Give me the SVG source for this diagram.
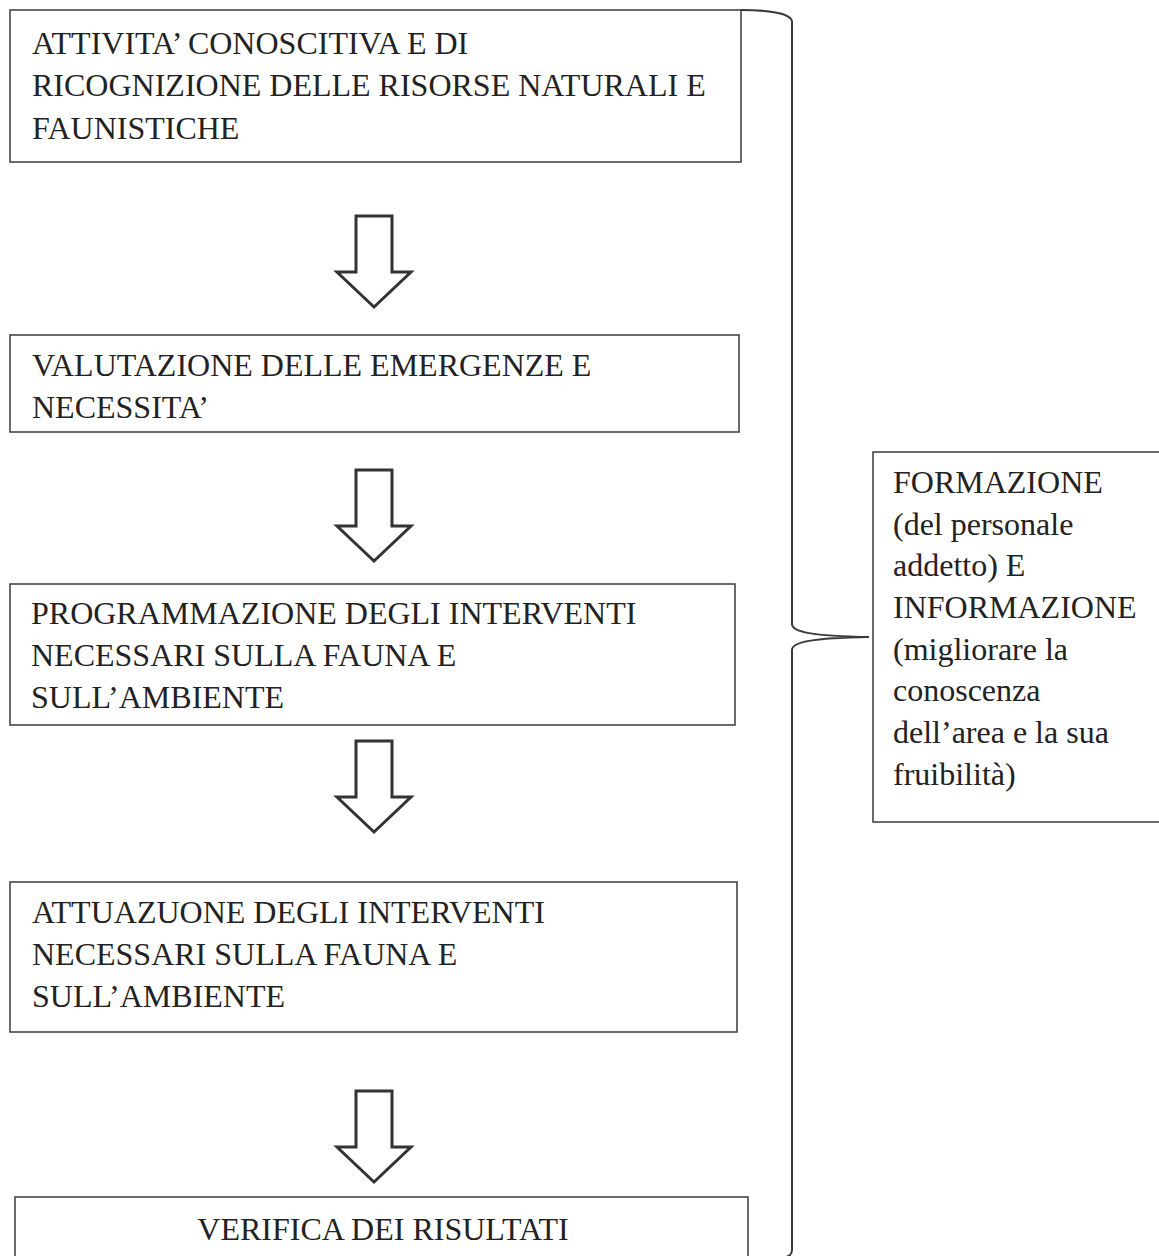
<svg xmlns="http://www.w3.org/2000/svg" width="1159" height="1256" viewBox="0 0 1159 1256">
<style>
.box{fill:#fff;stroke:#3a3a3a;stroke-width:1.5}
.t{font-family:"Liberation Serif","Times New Roman",serif;font-size:32px;fill:#222}
.arr{fill:#fff;stroke:#333;stroke-width:3;stroke-linejoin:miter}
.br{fill:none;stroke:#3a3a3a;stroke-width:2}
</style>
<defs>
<path id="arrow" class="arr" d="M-18,0 H18 V56 H37 L0,91 L-37,56 H-18 Z"/>
</defs>
<rect width="1159" height="1256" fill="#fff"/>
<g id="connectors">
<use href="#arrow" x="374" y="216"/>
<use href="#arrow" x="374" y="470"/>
<use href="#arrow" x="374" y="741"/>
<use href="#arrow" x="374" y="1091"/>
<path class="br" d="M741,10 C772,10 792,14 792,22 L792,624 C792,632 812,636 869,637 C812,638 792,642 792,650 L792,1250 C792,1254 790,1256 786,1257"/>
</g>
<g id="n1">
<rect class="box" x="10" y="10" width="731" height="152"/>
<text class="t" x="32" y="54">ATTIVITA’ CONOSCITIVA E DI</text>
<text class="t" x="32" y="96">RICOGNIZIONE DELLE RISORSE NATURALI E</text>
<text class="t" x="32" y="139">FAUNISTICHE</text>
</g>
<g id="n2">
<rect class="box" x="10" y="335" width="729" height="97"/>
<text class="t" x="32" y="376">VALUTAZIONE DELLE EMERGENZE E</text>
<text class="t" x="32" y="418">NECESSITA’</text>
</g>
<g id="n3">
<rect class="box" x="10" y="584" width="725" height="141"/>
<text class="t" x="31" y="624">PROGRAMMAZIONE DEGLI INTERVENTI</text>
<text class="t" x="31" y="666">NECESSARI SULLA FAUNA E</text>
<text class="t" x="31" y="708">SULL’AMBIENTE</text>
</g>
<g id="n4">
<rect class="box" x="10" y="882" width="727" height="150"/>
<text class="t" x="32" y="923">ATTUAZUONE DEGLI INTERVENTI</text>
<text class="t" x="32" y="965">NECESSARI SULLA FAUNA E</text>
<text class="t" x="32" y="1007">SULL’AMBIENTE</text>
</g>
<g id="n5">
<rect class="box" x="15" y="1197" width="733" height="70"/>
<text class="t" x="383" y="1240" text-anchor="middle">VERIFICA DEI RISULTATI</text>
</g>
<g id="n6">
<rect class="box" x="873" y="452" width="300" height="370"/>
<text class="t" x="893" y="493">FORMAZIONE</text>
<text class="t" x="893" y="535">(del personale</text>
<text class="t" x="893" y="576">addetto) E</text>
<text class="t" x="893" y="618">INFORMAZIONE</text>
<text class="t" x="893" y="660">(migliorare la</text>
<text class="t" x="893" y="701">conoscenza</text>
<text class="t" x="893" y="743">dell’area e la sua</text>
<text class="t" x="893" y="785">fruibilità)</text>
</g>
</svg>
